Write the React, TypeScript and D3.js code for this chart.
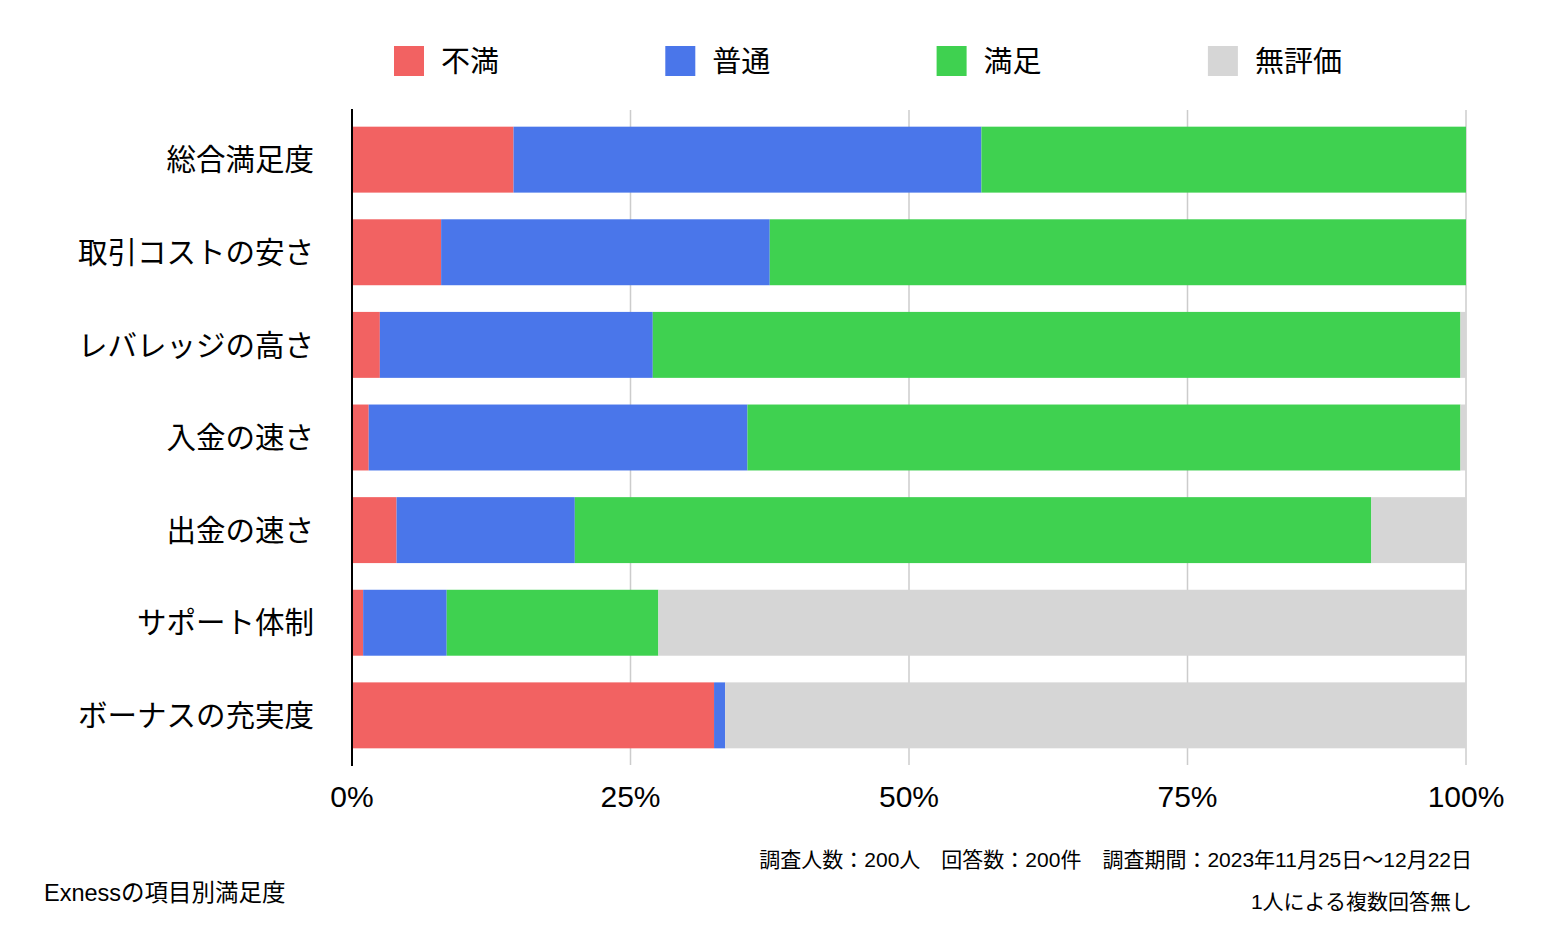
import React from "react";
import * as d3 from "d3";

const categories = ["総合満足度", "取引コストの安さ", "レバレッジの高さ", "入金の速さ", "出金の速さ", "サポート体制", "ボーナスの充実度"];
const seriesNames = ["不満", "普通", "満足", "無評価"];
const dissatisfied = [14.5, 8.0, 2.5, 1.5, 4.0, 1.0, 32.5];
const neutral = [42.0, 29.5, 24.5, 34.0, 16.0, 7.5, 1.0];
const satisfied = [43.5, 62.5, 72.5, 64.0, 71.5, 19.0, 0];
const noRating = [0, 0, 0.5, 0.5, 8.5, 72.5, 66.5];
const colors = ["#F26262", "#4A76EA", "#3FD150", "#D6D6D6"];
const xTicks = [0, 25, 50, 75, 100];
const footerLine1 = "調査人数：200人　回答数：200件　調査期間：2023年11月25日〜12月22日";
const footerLine2 = "1人による複数回答無し";
const chartTitle = "Exnessの項目別満足度";

const FONT = "'Liberation Sans', Arial, 'Noto Sans CJK JP', sans-serif";

export default function App() {
  const W = 1548, H = 946;
  const x = d3.scaleLinear().domain([0, 100]).range([352, 1466]);
  const y = d3.scaleBand<string>().domain(categories).range([110, 765]).paddingInner(0.288).paddingOuter(0.18);

  const rows = categories.map((c, i) => ({
    cat: c,
    "不満": dissatisfied[i],
    "普通": neutral[i],
    "満足": satisfied[i],
    "無評価": noRating[i],
  }));
  const stacked = d3.stack<any>().keys(seriesNames)(rows);

  return (
    <svg width={W} height={H} style={{ position: "absolute", left: 0, top: 0, background: "#fff" }} fontFamily={FONT}>
      {/* legend */}
      {seriesNames.map((s, i) => {
        const lx = 394 + i * 271.3;
        return (
          <g key={s}>
            <rect x={lx} y={46} width={30} height={30} fill={colors[i]} />
            <text x={lx + 47} y={62} dy="0.36em" fontSize={29} fill="#000">{s}</text>
          </g>
        );
      })}
      {/* gridlines */}
      {xTicks.slice(1).map((t) => (
        <line key={t} x1={x(t)} x2={x(t)} y1={110} y2={765} stroke="#CCCCCC" strokeWidth={1.5} />
      ))}
      {/* bars */}
      {stacked.map((layer, si) => (
        <g key={si} fill={colors[si]}>
          {layer.map((d, i) => {
            const w = x(d[1]) - x(d[0]);
            if (w <= 0) return null;
            return <rect key={i} x={x(d[0])} y={y(categories[i])} width={w} height={y.bandwidth()} />;
          })}
        </g>
      ))}
      {/* axis line */}
      <line x1={x(0)} x2={x(0)} y1={109} y2={766} stroke="#000" strokeWidth={2} />
      {/* x tick labels */}
      {xTicks.map((t) => (
        <text key={t} x={x(t)} y={796} dy="0.36em" textAnchor="middle" fontSize={30} fill="#000">{t}%</text>
      ))}
      {/* category labels */}
      {categories.map((c) => (
        <text key={c} x={314} y={(y(c) as number) + y.bandwidth() / 2} dy="0.36em" textAnchor="end" fontSize={29.5} fill="#000">{c}</text>
      ))}
      {/* footer */}
      <text x={1472} y={859} dy="0.36em" textAnchor="end" fontSize={21} fill="#000">{footerLine1}</text>
      <text x={1472} y={901} dy="0.36em" textAnchor="end" fontSize={21} fill="#000">{footerLine2}</text>
      <text x={44} y={893} dy="0.36em" fontSize={23.5} fill="#000">{chartTitle}</text>
    </svg>
  );
}
